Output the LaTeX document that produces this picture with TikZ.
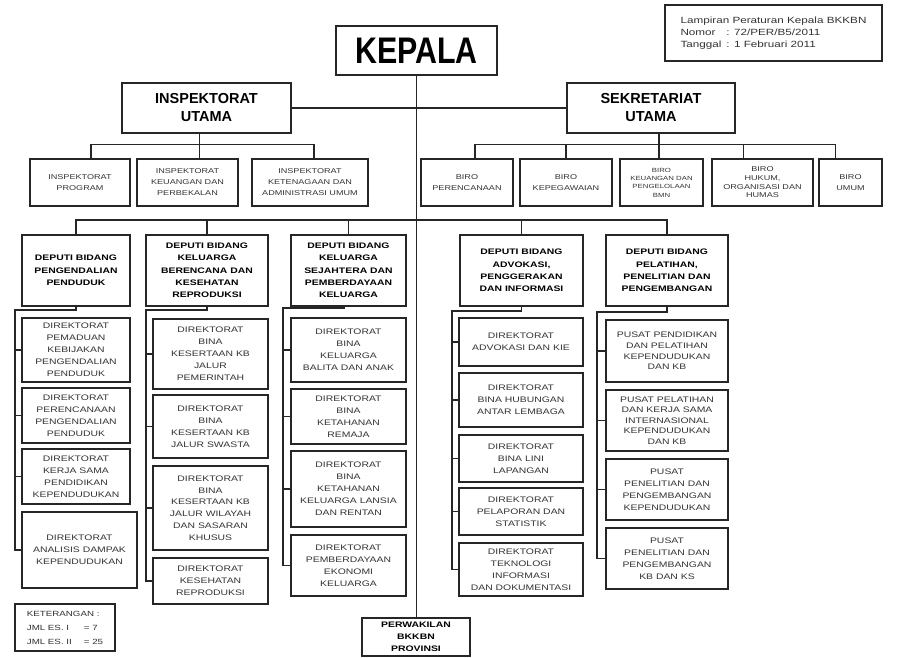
\documentclass[tikz,border=0pt]{standalone}
\usepackage{fontspec}
\setmainfont{Liberation Sans}
\newfontfamily\widef{Liberation Sans}[FakeStretch=1.3]
\newfontfamily\narrowf{Liberation Sans}[FakeStretch=0.82]
\newcommand\obox[7]{\node[#6, minimum width={(#4-#2)*1pt}, minimum height={(#5-#3)*1pt}] (#1) at ({(#2+#4)/2},{(#3+#5)/2}) {#7};}
\tikzset{
  bx/.style={draw=black!85, line width=1.6pt, inner sep=0pt, align=center, fill=white},
  hd/.style={bx, font=\bfseries\fontsize{14.5}{18}\selectfont},
  dep/.style={bx, font=\widef\bfseries\fontsize{8}{12.3}\selectfont},
  dir/.style={bx, font=\widef\fontsize{8}{12}\selectfont, text=black!80},
  sub/.style={bx, font=\widef\fontsize{7}{11}\selectfont, text=black!80},
  con/.style={draw=black!85, line width=1.4pt},
}
\begin{document}
\begin{tikzpicture}[x=1pt,y=-1pt]
\fill[white] (0,0) rectangle (897,658);
\useasboundingbox (0,0) rectangle (897,658);
% top
\obox{kepala}{336}{26}{497}{75}{bx, font=\narrowf\bfseries\fontsize{37}{40}\selectfont}{KEPALA}
\obox{lamp}{665}{5}{882}{61}{bx, line width=1.3pt, align=left, text=black!80, font=\widef\fontsize{9}{11.8}\selectfont}{Lampiran Peraturan Kepala BKKBN\\\makebox[46pt][l]{Nomor}: 72/PER/B5/2011\\\makebox[46pt][l]{Tanggal}: 1 Februari 2011}
\obox{iu}{122}{83}{291}{133}{hd}{INSPEKTORAT\\UTAMA}
\obox{su}{567}{83}{735}{133}{hd}{SEKRETARIAT\\UTAMA}
% inspektorat
\obox{i1}{30}{159}{130}{206}{sub}{INSPEKTORAT\\PROGRAM}
\obox{i2}{137}{159}{238}{206}{sub}{INSPEKTORAT\\KEUANGAN DAN\\PERBEKALAN}
\obox{i3}{252}{159}{368}{206}{sub}{INSPEKTORAT\\KETENAGAAN DAN\\ADMINISTRASI UMUM}
% sekretariat
\obox{s1}{421}{159}{513}{206}{sub}{BIRO\\PERENCANAAN}
\obox{s2}{520}{159}{612}{206}{sub}{BIRO\\KEPEGAWAIAN}
\obox{s3}{620}{159}{703}{206}{sub, font=\widef\fontsize{6}{8.3}\selectfont}{BIRO\\KEUANGAN DAN\\PENGELOLAAN\\BMN}
\obox{s4}{712}{159}{813}{206}{sub, font=\widef\fontsize{7}{8.7}\selectfont}{BIRO\\HUKUM,\\ORGANISASI DAN\\HUMAS}
\obox{s5}{819}{159}{882}{206}{sub}{BIRO\\UMUM}
% deputi
\obox{d1}{22}{235}{130}{306}{dep}{DEPUTI BIDANG\\PENGENDALIAN\\PENDUDUK}
\obox{d2}{146}{235}{268}{306}{dep}{DEPUTI BIDANG\\KELUARGA\\BERENCANA DAN\\KESEHATAN\\REPRODUKSI}
\obox{d3}{291}{235}{406}{306}{dep}{DEPUTI BIDANG\\KELUARGA\\SEJAHTERA DAN\\PEMBERDAYAAN\\KELUARGA}
\obox{d4}{460}{235}{583}{306}{dep}{DEPUTI BIDANG\\ADVOKASI,\\PENGGERAKAN\\DAN INFORMASI}
\obox{d5}{606}{235}{728}{306}{dep}{DEPUTI BIDANG\\PELATIHAN,\\PENELITIAN DAN\\PENGEMBANGAN}
% column 1
\obox{b11}{22}{318}{130}{382}{dir}{DIREKTORAT\\PEMADUAN\\KEBIJAKAN\\PENGENDALIAN\\PENDUDUK}
\obox{b12}{22}{388}{130}{443}{dir}{DIREKTORAT\\PERENCANAAN\\PENGENDALIAN\\PENDUDUK}
\obox{b13}{22}{449}{130}{504}{dir}{DIREKTORAT\\KERJA SAMA\\PENDIDIKAN\\KEPENDUDUKAN}
\obox{b14}{22}{512}{137}{588}{dir}{DIREKTORAT\\ANALISIS DAMPAK\\KEPENDUDUKAN}
% column 2
\obox{b21}{153}{319}{268}{389}{dir}{DIREKTORAT\\BINA\\KESERTAAN KB\\JALUR\\PEMERINTAH}
\obox{b22}{153}{395}{268}{458}{dir}{DIREKTORAT\\BINA\\KESERTAAN KB\\JALUR SWASTA}
\obox{b23}{153}{466}{268}{550}{dir, font=\widef\fontsize{8}{11.7}\selectfont}{DIREKTORAT\\BINA\\KESERTAAN KB\\JALUR WILAYAH\\DAN SASARAN\\KHUSUS}
\obox{b24}{153}{558}{268}{604}{dir}{DIREKTORAT\\KESEHATAN\\REPRODUKSI}
% column 3
\obox{b31}{291}{318}{406}{382}{dir}{DIREKTORAT\\BINA\\KELUARGA\\BALITA DAN ANAK}
\obox{b32}{291}{389}{406}{444}{dir}{DIREKTORAT\\BINA\\KETAHANAN\\REMAJA}
\obox{b33}{291}{451}{406}{527}{dir}{DIREKTORAT\\BINA\\KETAHANAN\\KELUARGA LANSIA\\DAN RENTAN}
\obox{b34}{291}{535}{406}{596}{dir}{DIREKTORAT\\PEMBERDAYAAN\\EKONOMI\\KELUARGA}
% column 4
\obox{b41}{459}{318}{583}{366}{dir}{DIREKTORAT\\ADVOKASI DAN KIE}
\obox{b42}{459}{373}{583}{427}{dir}{DIREKTORAT\\BINA HUBUNGAN\\ANTAR LEMBAGA}
\obox{b43}{459}{435}{583}{482}{dir}{DIREKTORAT\\BINA LINI\\LAPANGAN}
\obox{b44}{459}{488}{583}{535}{dir}{DIREKTORAT\\PELAPORAN DAN\\STATISTIK}
\obox{b45}{459}{543}{583}{596}{dir}{DIREKTORAT\\TEKNOLOGI\\INFORMASI\\DAN DOKUMENTASI}
% column 5
\obox{b51}{606}{320}{728}{382}{dir, font=\widef\fontsize{8}{10.8}\selectfont}{PUSAT PENDIDIKAN\\DAN PELATIHAN\\KEPENDUDUKAN\\DAN KB}
\obox{b52}{606}{390}{728}{451}{dir, font=\widef\fontsize{8}{10.5}\selectfont}{PUSAT PELATIHAN\\DAN KERJA SAMA\\INTERNASIONAL\\KEPENDUDUKAN\\DAN KB}
\obox{b53}{606}{459}{728}{520}{dir}{PUSAT\\PENELITIAN DAN\\PENGEMBANGAN\\KEPENDUDUKAN}
\obox{b54}{606}{528}{728}{589}{dir}{PUSAT\\PENELITIAN DAN\\PENGEMBANGAN\\KB DAN KS}
% bottom
\obox{ket}{15}{604}{115}{651}{bx, line width=1.3pt, align=left, text=black!80, font=\widef\fontsize{7.5}{14}\selectfont}{KETERANGAN :\\\makebox[57pt][l]{JML ES. I}= 7\\\makebox[57pt][l]{JML ES. II}= 25}
\obox{perw}{362}{618}{470}{656}{dep, font=\widef\bfseries\fontsize{8}{12}\selectfont}{PERWAKILAN\\BKKBN\\PROVINSI}

% connectors
\draw[con] (kepala.south) -- (kepala.south |- perw.north);
\draw[con] (iu.east) -- (su.west);
% inspektorat bar
\path ([xshift=-7pt]iu.south) ++(0,11) coordinate (ibar);
\draw[con] ([xshift=-7pt]iu.south) -- (ibar |- i2.north);
\draw[con] ([xshift=11pt]i1.north) |- (ibar) -| ([xshift=4pt]i3.north);
% sekretariat bar
\path ([xshift=8pt]su.south) ++(0,11) coordinate (sbar);
\draw[con] ([xshift=8pt]su.south) -- (sbar |- s3.north);
\draw[con] ([xshift=8pt]s1.north) |- (sbar) -| ([xshift=-15pt]s5.north);
\draw[con] (s2.north) -- (s2.north |- sbar);
\draw[con] ([xshift=-19pt]s4.north) -- ([xshift=-19pt]s4.north |- sbar);
% deputi bar
\path (kepala.south) ++(0,144) coordinate (dbar);
\draw[con] (d1.north) |- (dbar) -| (d5.north);
\foreach \d in {d2,d3,d4} \draw[con] (\d.north) -- (\d.north |- dbar);
% columns
\coordinate (c1) at (15,310);
\coordinate (c2) at (146,310);
\coordinate (c3) at (283,308);
\coordinate (c4) at (452,311);
\coordinate (c5) at (597,312);
\draw[con] (d1.south) |- (c1) |- (b14.west);
\foreach \b in {b11,b12,b13} \draw[con] (c1 |- \b.west) -- (\b.west);
\draw[con] (d2.south) |- (c2) |- (b24.west);
\foreach \b in {b21,b22,b23} \draw[con] (c2 |- \b.west) -- (\b.west);
\draw[con] ([xshift=-4pt]d3.south) |- (c3) |- (b34.west);
\foreach \b in {b31,b32,b33} \draw[con] (c3 |- \b.west) -- (\b.west);
\draw[con] (d4.south) |- (c4) |- (b45.west);
\foreach \b in {b41,b42,b43,b44} \draw[con] (c4 |- \b.west) -- (\b.west);
\draw[con] (d5.south) |- (c5) |- (b54.west);
\foreach \b in {b51,b52,b53} \draw[con] (c5 |- \b.west) -- (\b.west);
\end{tikzpicture}
\end{document}
